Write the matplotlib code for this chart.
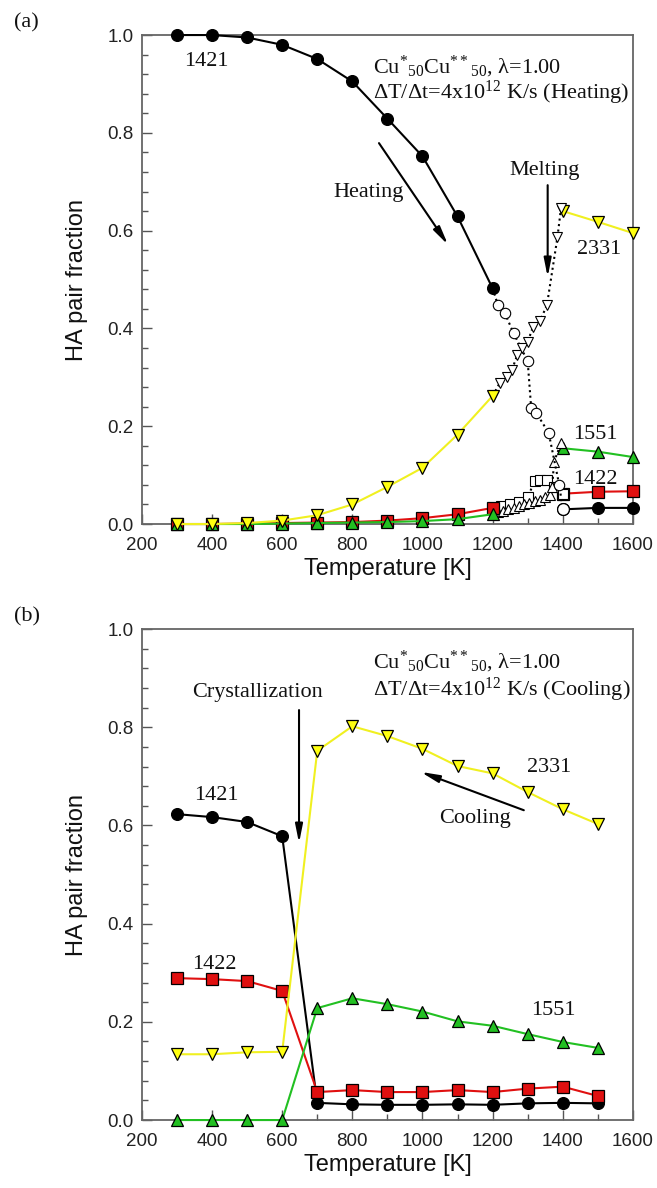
import matplotlib
matplotlib.use("Agg")
import matplotlib.pyplot as plt
from matplotlib.ticker import MultipleLocator

plt.rcParams['mathtext.fontset'] = 'custom'
plt.rcParams['mathtext.rm'] = 'Liberation Serif'
plt.rcParams['mathtext.it'] = 'Liberation Serif:italic'
plt.rcParams['mathtext.bf'] = 'Liberation Serif:bold'

SANS = ['Liberation Sans', 'DejaVu Sans']
SERIF = ['Liberation Serif', 'DejaVu Serif']

# ---------------- Panel (a): heating ----------------
T_a_solid = [300, 400, 500, 600, 700, 800, 900, 1000, 1100, 1200]
a_1421 = [1.0, 1.0, 0.995, 0.98, 0.951, 0.905, 0.829, 0.752, 0.629, 0.482]
a_1422 = [0.0, 0.0, 0.001, 0.002, 0.003, 0.004, 0.007, 0.012, 0.02, 0.033]
a_1551 = [0.0, 0.0, 0.0, 0.001, 0.002, 0.003, 0.004, 0.006, 0.01, 0.02]
a_2331 = [0.0, 0.0, 0.002, 0.007, 0.018, 0.04, 0.076, 0.115, 0.183, 0.262]

T_a_liq = [1400, 1500, 1600]
liq_1421 = [0.03, 0.033, 0.033]
liq_1422 = [0.062, 0.066, 0.067]
liq_1551 = [0.155, 0.148, 0.137]
liq_2331 = [0.64, 0.618, 0.595]

# transition region (open symbols, dotted)
tr_T_1421 = [1200, 1215, 1235, 1260, 1300, 1310, 1325, 1360, 1390, 1400]
tr_1421 = [0.482, 0.448, 0.431, 0.39, 0.333, 0.237, 0.227, 0.186, 0.08, 0.03]
tr_T_2331 = [1200, 1220, 1240, 1255, 1270, 1285, 1300, 1315, 1335, 1355, 1385, 1395]
tr_2331 = [0.262, 0.288, 0.30, 0.315, 0.345, 0.36, 0.372, 0.403, 0.415, 0.448, 0.587, 0.646]
tr_T_1551 = [1200, 1215, 1230, 1245, 1260, 1275, 1290, 1305, 1320, 1335, 1350, 1365, 1370, 1375, 1395]
tr_1551 = [0.02, 0.024, 0.027, 0.03, 0.033, 0.036, 0.04, 0.043, 0.047, 0.05, 0.055, 0.06, 0.075, 0.127, 0.165]
tr_T_1422 = [1200, 1225, 1250, 1275, 1300, 1320, 1335, 1355, 1375, 1400]
tr_1422 = [0.033, 0.036, 0.04, 0.045, 0.055, 0.088, 0.09, 0.09, 0.075, 0.062]

# ---------------- Panel (b): cooling ----------------
T_b = [300, 400, 500, 600, 700, 800, 900, 1000, 1100, 1200, 1300, 1400, 1500]
b_1421 = [0.623, 0.617, 0.607, 0.578, 0.035, 0.032, 0.031, 0.031, 0.032, 0.031, 0.034, 0.035, 0.034]
b_1422 = [0.289, 0.287, 0.283, 0.263, 0.057, 0.061, 0.057, 0.057, 0.061, 0.057, 0.064, 0.068, 0.049]
b_1551 = [0.0, 0.0, 0.0, 0.0, 0.228, 0.248, 0.236, 0.221, 0.201, 0.192, 0.175, 0.159, 0.147]
b_2331 = [0.134, 0.134, 0.138, 0.139, 0.752, 0.802, 0.782, 0.756, 0.721, 0.706, 0.668, 0.633, 0.603]

x_ticks = [200, 400, 600, 800, 1000, 1200, 1400, 1600]
y_ticks = [0.0, 0.2, 0.4, 0.6, 0.8, 1.0]

C_BLACK = '#000000'
C_RED = '#e01010'
C_GREEN = '#22c022'
C_YELLOW = '#ffff10'
C_YLINE = '#f0f020'

MS = 8.5
MS_OPEN = 7.5

fig = plt.figure(figsize=(6.57, 11.88), dpi=100)
ax_a = fig.add_axes([0.216, 0.5589, 0.7473, 0.4116])
ax_b = fig.add_axes([0.216, 0.0572, 0.7473, 0.4133])


def style_axes(ax):
    ax.set_xlim(200, 1600)
    ax.set_ylim(0.0, 1.0)
    ax.set_xticks(x_ticks)
    ax.set_yticks(y_ticks)
    ax.set_xticklabels([str(t) for t in x_ticks])
    ax.set_yticklabels(['%.1f' % v for v in y_ticks])
    ax.xaxis.set_minor_locator(MultipleLocator(100))
    ax.yaxis.set_minor_locator(MultipleLocator(0.04))
    ax.tick_params(which='both', direction='in', top=False, right=False,
                   color='#555555', width=1.0)
    ax.tick_params(which='major', length=7)
    ax.tick_params(axis='x', which='major', pad=9)
    ax.tick_params(axis='y', which='major', pad=6)
    ax.tick_params(which='minor', length=4)
    for lab in ax.get_xticklabels() + ax.get_yticklabels():
        lab.set_fontfamily(SANS)
        lab.set_fontsize(13.5)
        lab.set_color('#222222')
    for s in ax.spines.values():
        s.set_color('#666666')
        s.set_linewidth(1.3)
    ax.set_xlabel('Temperature [K]', fontsize=17, family=SANS, labelpad=3, color='#111111')
    ax.set_ylabel('HA pair fraction', fontsize=17, family=SANS, color='#111111')
    ax.yaxis.set_label_coords(-0.11, 0.5)


def filled(ax, x, y, color, lcolor, marker, z, ms=MS):
    ax.plot(x, y, '-', color=lcolor, lw=1.5, marker=marker, ms=ms,
            markerfacecolor=color, markeredgecolor='black', markeredgewidth=0.9,
            zorder=z, clip_on=False)


def opened(ax, x, y, marker, z, ms=MS_OPEN):
    ax.plot(x, y, ':', color='black', lw=1.5, marker=marker, ms=ms,
            markerfacecolor='white', markeredgecolor='black', markeredgewidth=0.8,
            zorder=z, clip_on=False)


ARROW = dict(arrowstyle='-|>,head_length=1.1,head_width=0.22',
             color='black', lw=1.5, shrinkA=0, shrinkB=0)

# ---- panel (a)
style_axes(ax_a)
opened(ax_a, tr_T_1422, tr_1422, 's', 4, ms=7)
opened(ax_a, tr_T_1551, tr_1551, '^', 4)
opened(ax_a, tr_T_1421, tr_1421, 'o', 4)
opened(ax_a, tr_T_2331, tr_2331, 'v', 4)

filled(ax_a, T_a_solid, a_1421, C_BLACK, C_BLACK, 'o', 5)
filled(ax_a, T_a_solid, a_1422, C_RED, C_RED, 's', 6, ms=8)
filled(ax_a, T_a_solid, a_1551, C_GREEN, C_GREEN, '^', 7)
filled(ax_a, T_a_solid, a_2331, C_YELLOW, C_YLINE, 'v', 8)

filled(ax_a, T_a_liq, liq_1421, C_BLACK, C_BLACK, 'o', 3)
filled(ax_a, T_a_liq, liq_1422, C_RED, C_RED, 's', 3, ms=8)
filled(ax_a, T_a_liq, liq_1551, C_GREEN, C_GREEN, '^', 3)
filled(ax_a, T_a_liq, liq_2331, C_YELLOW, C_YLINE, 'v', 3)
# open symbol at 1400 on top of filled for 1421
ax_a.plot([1400], [0.03], 'o', ms=MS, mfc='white', mec='black', mew=0.9, zorder=9)

TXT = dict(family=SERIF, fontsize=16, color='#111111')
ax_a.text(-0.26, 1.025, '(a)', transform=ax_a.transAxes, ha='left', va='center', **TXT)
ax_a.text(383, 0.945, '1421', ha='center', va='center', **TXT)
ax_a.text(860, 0.935, 'Cu$^{*}$$_{50}$Cu$^{**}$$_{50}$, λ=1.00', ha='left', va='center', **TXT)
ax_a.text(860, 0.881, 'ΔT/Δt=4x10$^{12}$ K/s (Heating)', ha='left', va='center', **TXT)
ax_a.text(845, 0.679, 'Heating', ha='center', va='center', **TXT)
ax_a.annotate('', xy=(1073, 0.571), xytext=(876, 0.779), arrowprops=ARROW)
ax_a.text(1349, 0.722, 'Melting', ha='center', va='center', **TXT)
ax_a.annotate('', xy=(1357, 0.505), xytext=(1357, 0.693), arrowprops=ARROW, zorder=10)
ax_a.text(1503, 0.562, '2331', ha='center', va='center', **TXT)
ax_a.text(1492, 0.183, '1551', ha='center', va='center', **TXT)
ax_a.text(1492, 0.092, '1422', ha='center', va='center', **TXT)

# ---- panel (b)
style_axes(ax_b)
filled(ax_b, T_b, b_1421, C_BLACK, C_BLACK, 'o', 5)
filled(ax_b, T_b, b_1422, C_RED, C_RED, 's', 6, ms=8)
filled(ax_b, T_b, b_1551, C_GREEN, C_GREEN, '^', 7)
filled(ax_b, T_b, b_2331, C_YELLOW, C_YLINE, 'v', 8)

ax_b.text(-0.26, 1.025, '(b)', transform=ax_b.transAxes, ha='left', va='center', **TXT)
ax_b.text(860, 0.933, 'Cu$^{*}$$_{50}$Cu$^{**}$$_{50}$, λ=1.00', ha='left', va='center', **TXT)
ax_b.text(860, 0.876, 'ΔT/Δt=4x10$^{12}$ K/s (Cooling)', ha='left', va='center', **TXT)
ax_b.text(530, 0.87, 'Crystallization', ha='center', va='center', **TXT)
ax_b.annotate('', xy=(648, 0.564), xytext=(648, 0.835), arrowprops=ARROW)
ax_b.text(1360, 0.717, '2331', ha='center', va='center', **TXT)
ax_b.text(1150, 0.615, 'Cooling', ha='center', va='center', **TXT)
ax_b.annotate('', xy=(995, 0.709), xytext=(1289, 0.631), arrowprops=ARROW)
ax_b.text(411, 0.662, '1421', ha='center', va='center', **TXT)
ax_b.text(408, 0.316, '1422', ha='center', va='center', **TXT)
ax_b.text(1373, 0.224, '1551', ha='center', va='center', **TXT)

fig.savefig('out.png', dpi=100)
